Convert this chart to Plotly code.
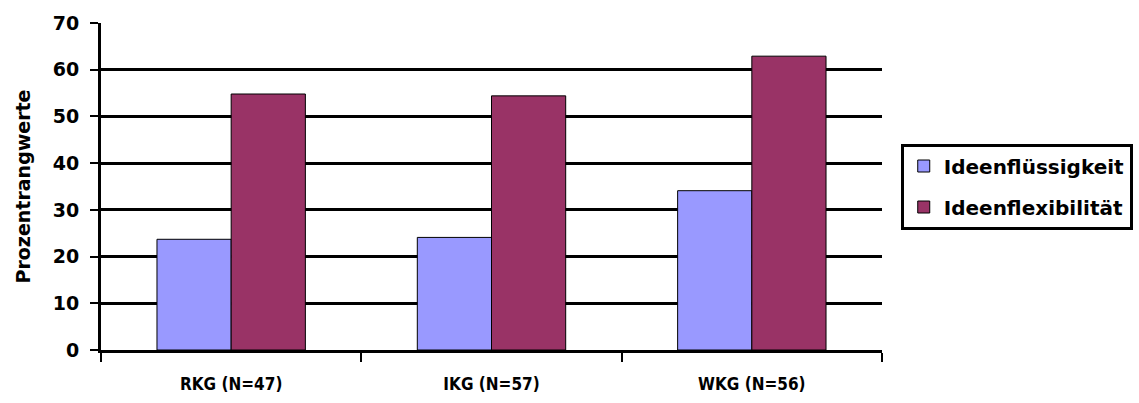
import plotly.graph_objects as go

categories = ["RKG (N=47)", "IKG (N=57)", "WKG (N=56)"]
ideenfluessigkeit = [23.7, 24.1, 34.1]
ideenflexibilitaet = [54.8, 54.4, 62.9]
y_ticks = [0, 10, 20, 30, 40, 50, 60, 70]

FONT = "DejaVu Sans, Liberation Sans, Arial, sans-serif"
FONT_COND = "DejaVu Sans Condensed, DejaVu Sans, sans-serif"

fig = go.Figure()
fig.add_trace(go.Bar(
    x=categories, y=ideenfluessigkeit, name="Ideenflüssigkeit",
    marker=dict(color="#9999FF", line=dict(color="black", width=1)),
    legendgroup="a",
))
fig.add_trace(go.Bar(
    x=categories, y=ideenflexibilitaet, name="Ideenflexibilität",
    marker=dict(color="#993366", line=dict(color="black", width=1)),
    legendgroup="b",
))

fig.update_layout(
    width=1139, height=403,
    margin=dict(l=101, r=257, t=23, b=53, autoexpand=False),
    paper_bgcolor="white", plot_bgcolor="white",
    barmode="group", bargap=0.43, bargroupgap=0,
    font=dict(family=FONT, size=16, color="black", weight="bold"),
    showlegend=True,
    legend=dict(
        x=1.024, xanchor="left", y=0.50, yanchor="middle",
        bordercolor="black", borderwidth=3, bgcolor="white",
        font=dict(family=FONT, size=20, color="black", weight="bold"),
        traceorder="grouped", tracegroupgap=12,
        itemwidth=30,
    ),
    xaxis=dict(
        showline=True, linecolor="black", linewidth=3,
        ticks="outside", tickson="boundaries", ticklen=9, tickwidth=2, tickcolor="black",
        tickfont=dict(family=FONT_COND, size=17, color="black", weight="bold"),
        ticklabelstandoff=17,
        showgrid=False,
    ),
    yaxis=dict(
        range=[0, 70], tickvals=y_ticks,
        showline=True, linecolor="black", linewidth=3,
        ticks="outside", ticklen=8, tickwidth=2, tickcolor="black",
        showgrid=True, gridcolor="black", gridwidth=3,
        zeroline=False,
        tickfont=dict(family=FONT, size=19, color="black", weight="bold"),
        ticklabelstandoff=7,
        title=dict(text="Prozentrangwerte",
                   font=dict(family=FONT, size=19, color="black", weight="bold"),
                   standoff=18),
    ),
)

fig.write_html("out.html")
